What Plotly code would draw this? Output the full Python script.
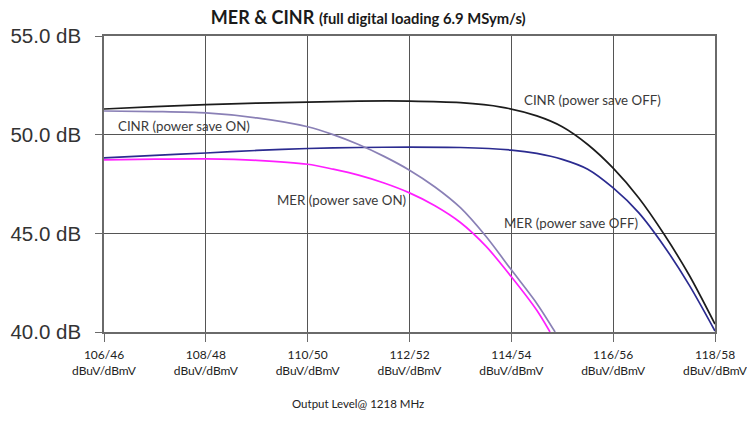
import plotly.graph_objects as go

# ---- data ----
x_ticks = [106, 108, 110, 112, 114, 116, 118]
x_tick_labels = ["106/46<br>dBuV/dBmV", "108/48<br>dBuV/dBmV", "110/50<br>dBuV/dBmV",
                 "112/52<br>dBuV/dBmV", "114/54<br>dBuV/dBmV", "116/56<br>dBuV/dBmV",
                 "118/58<br>dBuV/dBmV"]
y_ticks = [40, 45, 50, 55]
y_tick_labels = ["40.0 dB", "45.0 dB", "50.0 dB", "55.0 dB"]

cinr_off_x = [106, 107, 108, 109, 110, 111, 112, 113, 113.8, 114.5, 115, 115.5, 116, 116.5, 117, 117.5, 118]
cinr_off_y = [51.3, 51.42, 51.52, 51.6, 51.65, 51.7, 51.7, 51.62, 51.4, 50.95, 50.4, 49.5, 48.3, 46.8, 44.95, 42.85, 40.4]

mer_off_x = [106, 107, 108, 109, 110, 111, 112, 113, 114, 114.5, 115, 115.5, 116, 116.5, 117, 117.5, 118]
mer_off_y = [48.82, 48.95, 49.07, 49.2, 49.3, 49.35, 49.37, 49.35, 49.22, 49.05, 48.75, 48.25, 47.3, 46.05, 44.35, 42.35, 40.05]

cinr_on_x = [106, 107, 108, 109, 110, 110.5, 111, 111.5, 112, 112.5, 113, 113.5, 114, 114.5, 114.86]
cinr_on_y = [51.2, 51.17, 51.1, 50.85, 50.4, 50.0, 49.5, 48.9, 48.2, 47.35, 46.3, 44.85, 43.15, 41.45, 40.0]

mer_on_x = [106, 107, 108, 109, 110, 110.5, 111, 111.5, 112, 112.5, 113, 113.5, 114, 114.5, 114.76]
mer_on_y = [48.72, 48.76, 48.77, 48.7, 48.5, 48.25, 47.95, 47.55, 47.05, 46.4, 45.55, 44.35, 42.8, 41.1, 40.0]

labels = ["CINR (power save OFF)", "CINR (power save ON)", "MER (power save ON)", "MER (power save OFF)"]
label_x = [115.6, 107.57, 110.66, 115.17]
label_y = [51.76, 50.44, 46.69, 45.52]

fig = go.Figure()
series = [
    (cinr_off_x, cinr_off_y, "#1c1c1c"),
    (mer_off_x, mer_off_y, "#2b2b90"),
    (cinr_on_x, cinr_on_y, "#8a80b6"),
    (mer_on_x, mer_on_y, "#ff1eff"),
]
for xs, ys, col in series:
    fig.add_trace(go.Scatter(x=xs, y=ys, mode="lines",
                             line=dict(color=col, width=1.7, shape="spline", smoothing=0.8),
                             showlegend=False, hoverinfo="skip"))

for t, lx, ly in zip(labels, label_x, label_y):
    fig.add_annotation(x=lx, y=ly, xref="x", yref="y", text=t, showarrow=False,
                       font=dict(family="Lato, Open Sans, sans-serif", size=13.3, color="#3a3a3a"))

fig.add_annotation(x=0.415, y=-0.243, xref="paper", yref="paper", text="Output Level@ 1218 MHz",
                   showarrow=False, yanchor="middle",
                   font=dict(family="Lato, Open Sans, sans-serif", size=11.5, color="#222"))

fig.update_layout(
    width=747, height=422,
    margin=dict(l=104, r=32, t=36, b=90, autoexpand=False),
    paper_bgcolor="white", plot_bgcolor="white",
    title=dict(
        text="<b>MER &amp; CINR</b> <b><span style='font-size:14.8px'>(full digital loading 6.9 MSym/s)</span></b>",
        x=0.493, xanchor="center", y=0.957, yanchor="middle",
        font=dict(family="Lato, Open Sans, sans-serif", size=18, color="#1a1a1a")),
)
fig.update_xaxes(range=[106, 118], tickmode="array", tickvals=x_ticks, ticktext=x_tick_labels,
                 showgrid=True, gridcolor="#555555", gridwidth=1, automargin=False,
                 showline=True, linecolor="#6a6a6a", linewidth=2, mirror=True,
                 ticks="outside", ticklen=8, tickcolor="#6a6a6a", zeroline=False,
                 ticklabeloverflow="allow", ticklabelstandoff=3,
                 tickfont=dict(family="Lato, Open Sans, sans-serif", size=12, color="#222"))
fig.update_yaxes(range=[40, 55], tickmode="array", tickvals=y_ticks, ticktext=y_tick_labels,
                 showgrid=True, gridcolor="#555555", gridwidth=1, automargin=False,
                 showline=True, linecolor="#6a6a6a", linewidth=1.5, mirror=True,
                 ticks="outside", ticklen=7, tickcolor="#6a6a6a", zeroline=False,
                 ticklabelstandoff=10,
                 tickfont=dict(family="Liberation Sans, Arial, sans-serif", size=20.5, color="#333"))

fig.write_html("out.html", config={"displayModeBar": False},
               post_script="document.body.style.margin='0px';")
